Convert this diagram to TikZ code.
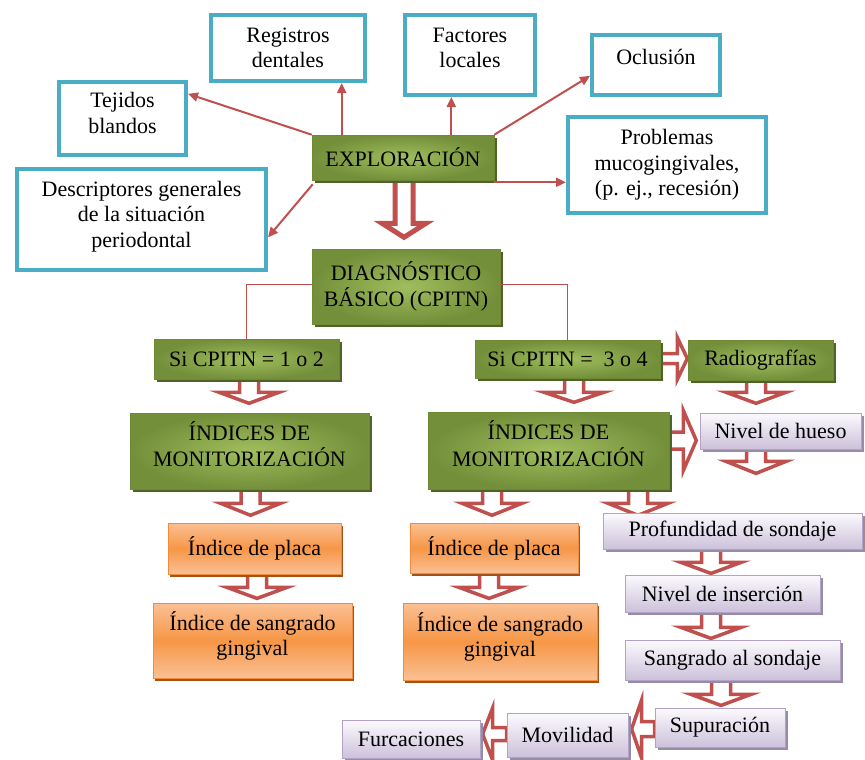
\documentclass[tikz,border=0pt]{standalone}
\usepackage{fontspec}
\setmainfont{Liberation Serif}
\usetikzlibrary{arrows.meta,calc,shadows}
\pgfdeclarelayer{bg}
\pgfsetlayers{bg,main}

\definecolor{cblue}{RGB}{75,172,198}
\definecolor{cred}{RGB}{192,80,77}
\definecolor{gin}{RGB}{160,190,94}
\definecolor{gout}{RGB}{115,143,58}
\definecolor{gsh}{RGB}{79,98,40}
\definecolor{gbd}{RGB}{110,138,55}
\definecolor{olight}{RGB}{250,192,148}
\definecolor{omid}{RGB}{247,150,70}
\definecolor{obd}{RGB}{242,140,60}
\definecolor{osh}{RGB}{165,82,20}
\definecolor{ltop}{RGB}{252,250,254}
\definecolor{lbot}{RGB}{204,193,218}
\definecolor{lbd}{RGB}{179,162,199}
\definecolor{lsh}{RGB}{150,140,165}

% block (hollow) arrows: [style]{start}{shaft length}{head length}{shaft half width}{head half width}
\newcommand\blkdown[6][blk]{\draw[#1] #2 ++(-#5,0) -- ++(0,#3) -- ++(#5-#6,0) -- ++(#6,#4) -- ++(#6,-#4) -- ++(#5-#6,0) -- ++(0,-#3) -- cycle;}
\newcommand\blkright[6][blk]{\draw[#1] #2 ++(0,-#5) -- ++(#3,0) -- ++(0,#5-#6) -- ++(#4,#6) -- ++(-#4,#6) -- ++(0,#5-#6) -- ++(-#3,0) -- cycle;}
\newcommand\blkleft[6][blk]{\draw[#1] #2 ++(0,-#5) -- ++(-#3,0) -- ++(0,#5-#6) -- ++(-#4,#6) -- ++(#4,#6) -- ++(0,#5-#6) -- ++(#3,0) -- cycle;}
\newcommand\upby[2]{\raisebox{#1}[\height][\depth]{\begin{tabular}{@{}c@{}}#2\end{tabular}}}

\tikzset{
  base/.style={font=\fontsize{22}{25.5}\selectfont, align=center, inner sep=0pt, text=black},
  wh/.style 2 args={minimum width=#1pt, minimum height=#2pt},
  bluebox/.style={base, draw=cblue, line width=4pt, fill=white},
  greenbox/.style={base, draw=gbd, line width=0.6pt, inner color=gin, outer color=gout,
    drop shadow={shadow xshift=3pt, shadow yshift=-3pt, fill=gsh, opacity=1}},
  orangebox/.style={base, draw=obd, line width=0.8pt, top color=olight, bottom color=olight, middle color=omid,
    drop shadow={shadow xshift=2pt, shadow yshift=-3pt, fill=osh, opacity=1}},
  lavbox/.style={base, draw=lbd, line width=0.8pt, top color=ltop, bottom color=lbot,
    drop shadow={shadow xshift=3pt, shadow yshift=-3pt, fill=lsh, opacity=1}},
  arr/.style={draw=cred, line width=2pt, -{Triangle[length=10pt,width=9pt]}},
  ln/.style={draw=cred, line width=1.6pt},
  blk/.style={draw=cred, line width=3.5pt, fill=white},
  blkbig/.style={draw=cred, line width=5pt, fill=white},
}

\begin{document}
\begin{tikzpicture}[x=1pt,y=-1pt]
\useasboundingbox (0,0) rectangle (865,760);

% blue boxes
\node[bluebox, wh={154}{66}] (reg) at (288,48) {Registros\\dentales};
\node[bluebox, wh={130}{80}] (fac) at (470,55) {\upby{5pt}{Factores\\locales}};
\node[bluebox, wh={127}{73}] (tej) at (122.5,118.5) {\upby{3pt}{Tejidos\\blandos}};
\node[bluebox, wh={128}{60}] (ocl) at (656,65) {\upby{6pt}{Oclusión}};
\node[bluebox, wh={198}{96}] (prob) at (667,165) {Problemas\\mucogingivales,\\(p. ej., recesión)};
\node[bluebox, wh={249}{101}] (desc) at (141.5,219.5) {\upby{3pt}{Descriptores generales\\de la situación\\periodontal}};

% green boxes
\node[greenbox, wh={182}{45}] (expl) at (403,157.5) {EXPLORACIÓN};
\node[greenbox, wh={188}{75}] (diag) at (406,286.5) {DIAGNÓSTICO\\BÁSICO (CPITN)};
\node[greenbox, wh={185}{40}] (si12) at (246.5,359) {Si CPITN = 1 o 2};
\node[greenbox, wh={185}{38}] (si34) at (567.5,359) {Si CPITN =\ \ 3 o 4};
\node[greenbox, wh={145}{40}] (radio) at (760.5,360) {Radiografías};
\node[greenbox, wh={239}{76}] (ind1) at (249.5,451) {\upby{3pt}{ÍNDICES DE\\MONITORIZACIÓN}};
\node[greenbox, wh={241}{77}] (ind2) at (548.5,450.5) {\upby{3pt}{ÍNDICES DE\\MONITORIZACIÓN}};

% orange boxes
\node[orangebox, wh={173}{51}] (pl1) at (254.5,548.5) {Índice de placa};
\node[orangebox, wh={199}{75}] (sg1) at (252.5,640.5) {\upby{3pt}{Índice de sangrado\\gingival}};
\node[orangebox, wh={168}{50}] (pl2) at (494,548) {Índice de placa};
\node[orangebox, wh={194}{77}] (sg2) at (500,641.5) {\upby{3pt}{Índice de sangrado\\gingival}};

% lavender boxes
\node[lavbox, wh={161}{36}] (hue) at (780.5,431) {Nivel de hueso};
\node[lavbox, wh={259}{36}] (prof) at (732.5,531) {Profundidad de sondaje};
\node[lavbox, wh={195}{37}] (ins) at (722.5,593.5) {Nivel de inserción};
\node[lavbox, wh={215}{40}] (sgs) at (732.5,660) {Sangrado al sondaje};
\node[lavbox, wh={130}{39}] (sup) at (720,727.5) {Supuración};
\node[lavbox, wh={121}{44}] (mov) at (567.5,735) {Movilidad};
\node[lavbox, wh={138}{38}] (fur) at (411,739) {Furcaciones};

% thin connectors from EXPLORACIÓN
\coordinate (e1) at ($(expl.north west)+(30,0)$);
\coordinate (e2) at ($(expl.north east)+(-43,0)$);
\coordinate (e3) at ($(expl.south east)+(0,2)$);
\draw[arr] (expl.north west) -- ($(tej.north east)!0.18!(tej.south east)$);
\draw[arr] (e1) -- (e1 |- reg.south);
\draw[arr] (e2) -- (e2 |- fac.south);
\draw[arr] (expl.north east) -- ($(ocl.north west)!0.67!(ocl.south west)$);
\draw[arr] (e3) -- (e3 -| prob.west);
\draw[arr] ($(expl.south west)+(1,4)$) -- ($(desc.north east)!0.67!(desc.south east)$);

% lines from DIAGNÓSTICO
\draw[ln] ($(diag.west)+(0,-2)$) -| (si12.north);
\draw[ln] ($(diag.east)+(0,-2)$) -| (si34.north);

% block arrows
\begin{pgfonlayer}{bg}
\blkdown[blkbig]{($(expl.south)+(1,0)$)}{43}{14}{9}{22}
\blkdown{($(si12.south)+(2.5,0)$)}{13}{11}{9.5}{30}
\blkdown{($(si34.south)+(6.5,0)$)}{14}{10}{9.5}{30}
\blkdown{($(radio.south)+(-4.5,0)$)}{12}{11}{9.5}{30}
\blkdown{($(hue.south)+(-24.5,0)$)}{12}{12}{9.5}{30}
\blkdown{($(ind1.south)+(1,0)$)}{14}{12}{9.5}{30}
\blkdown{($(ind2.south)+(-56.5,0)$)}{14}{12}{9.5}{30}
\blkdown{($(ind2.south)+(89.5,0)$)}{14}{12}{9.5}{30}
\blkdown{($(pl1.south)+(2.5,0)$)}{13}{11}{9.5}{30}
\blkdown{($(pl2.south)+(-5,0)$)}{14}{11}{9.5}{30}
\blkdown{($(prof.south)+(-21.5,0)$)}{13}{11}{9.5}{30}
\blkdown{($(ins.south)+(-11.5,0)$)}{15}{11}{9.5}{30}
\blkdown{($(sgs.south)+(-11.5,0)$)}{14}{11}{9.5}{30}
\blkright{($(si34.east)+(0,-0.5)$)}{17}{10}{5}{21}
\blkright{($(ind2.east)+(0,-10)$)}{14}{13}{8.5}{30}
\blkleft{($(sup.west)+(0,1.5)$)}{13}{10}{7.5}{29}
\blkleft{($(mov.west)+(0,-1)$)}{14}{10}{6.5}{26}
\end{pgfonlayer}
\end{tikzpicture}
\end{document}
